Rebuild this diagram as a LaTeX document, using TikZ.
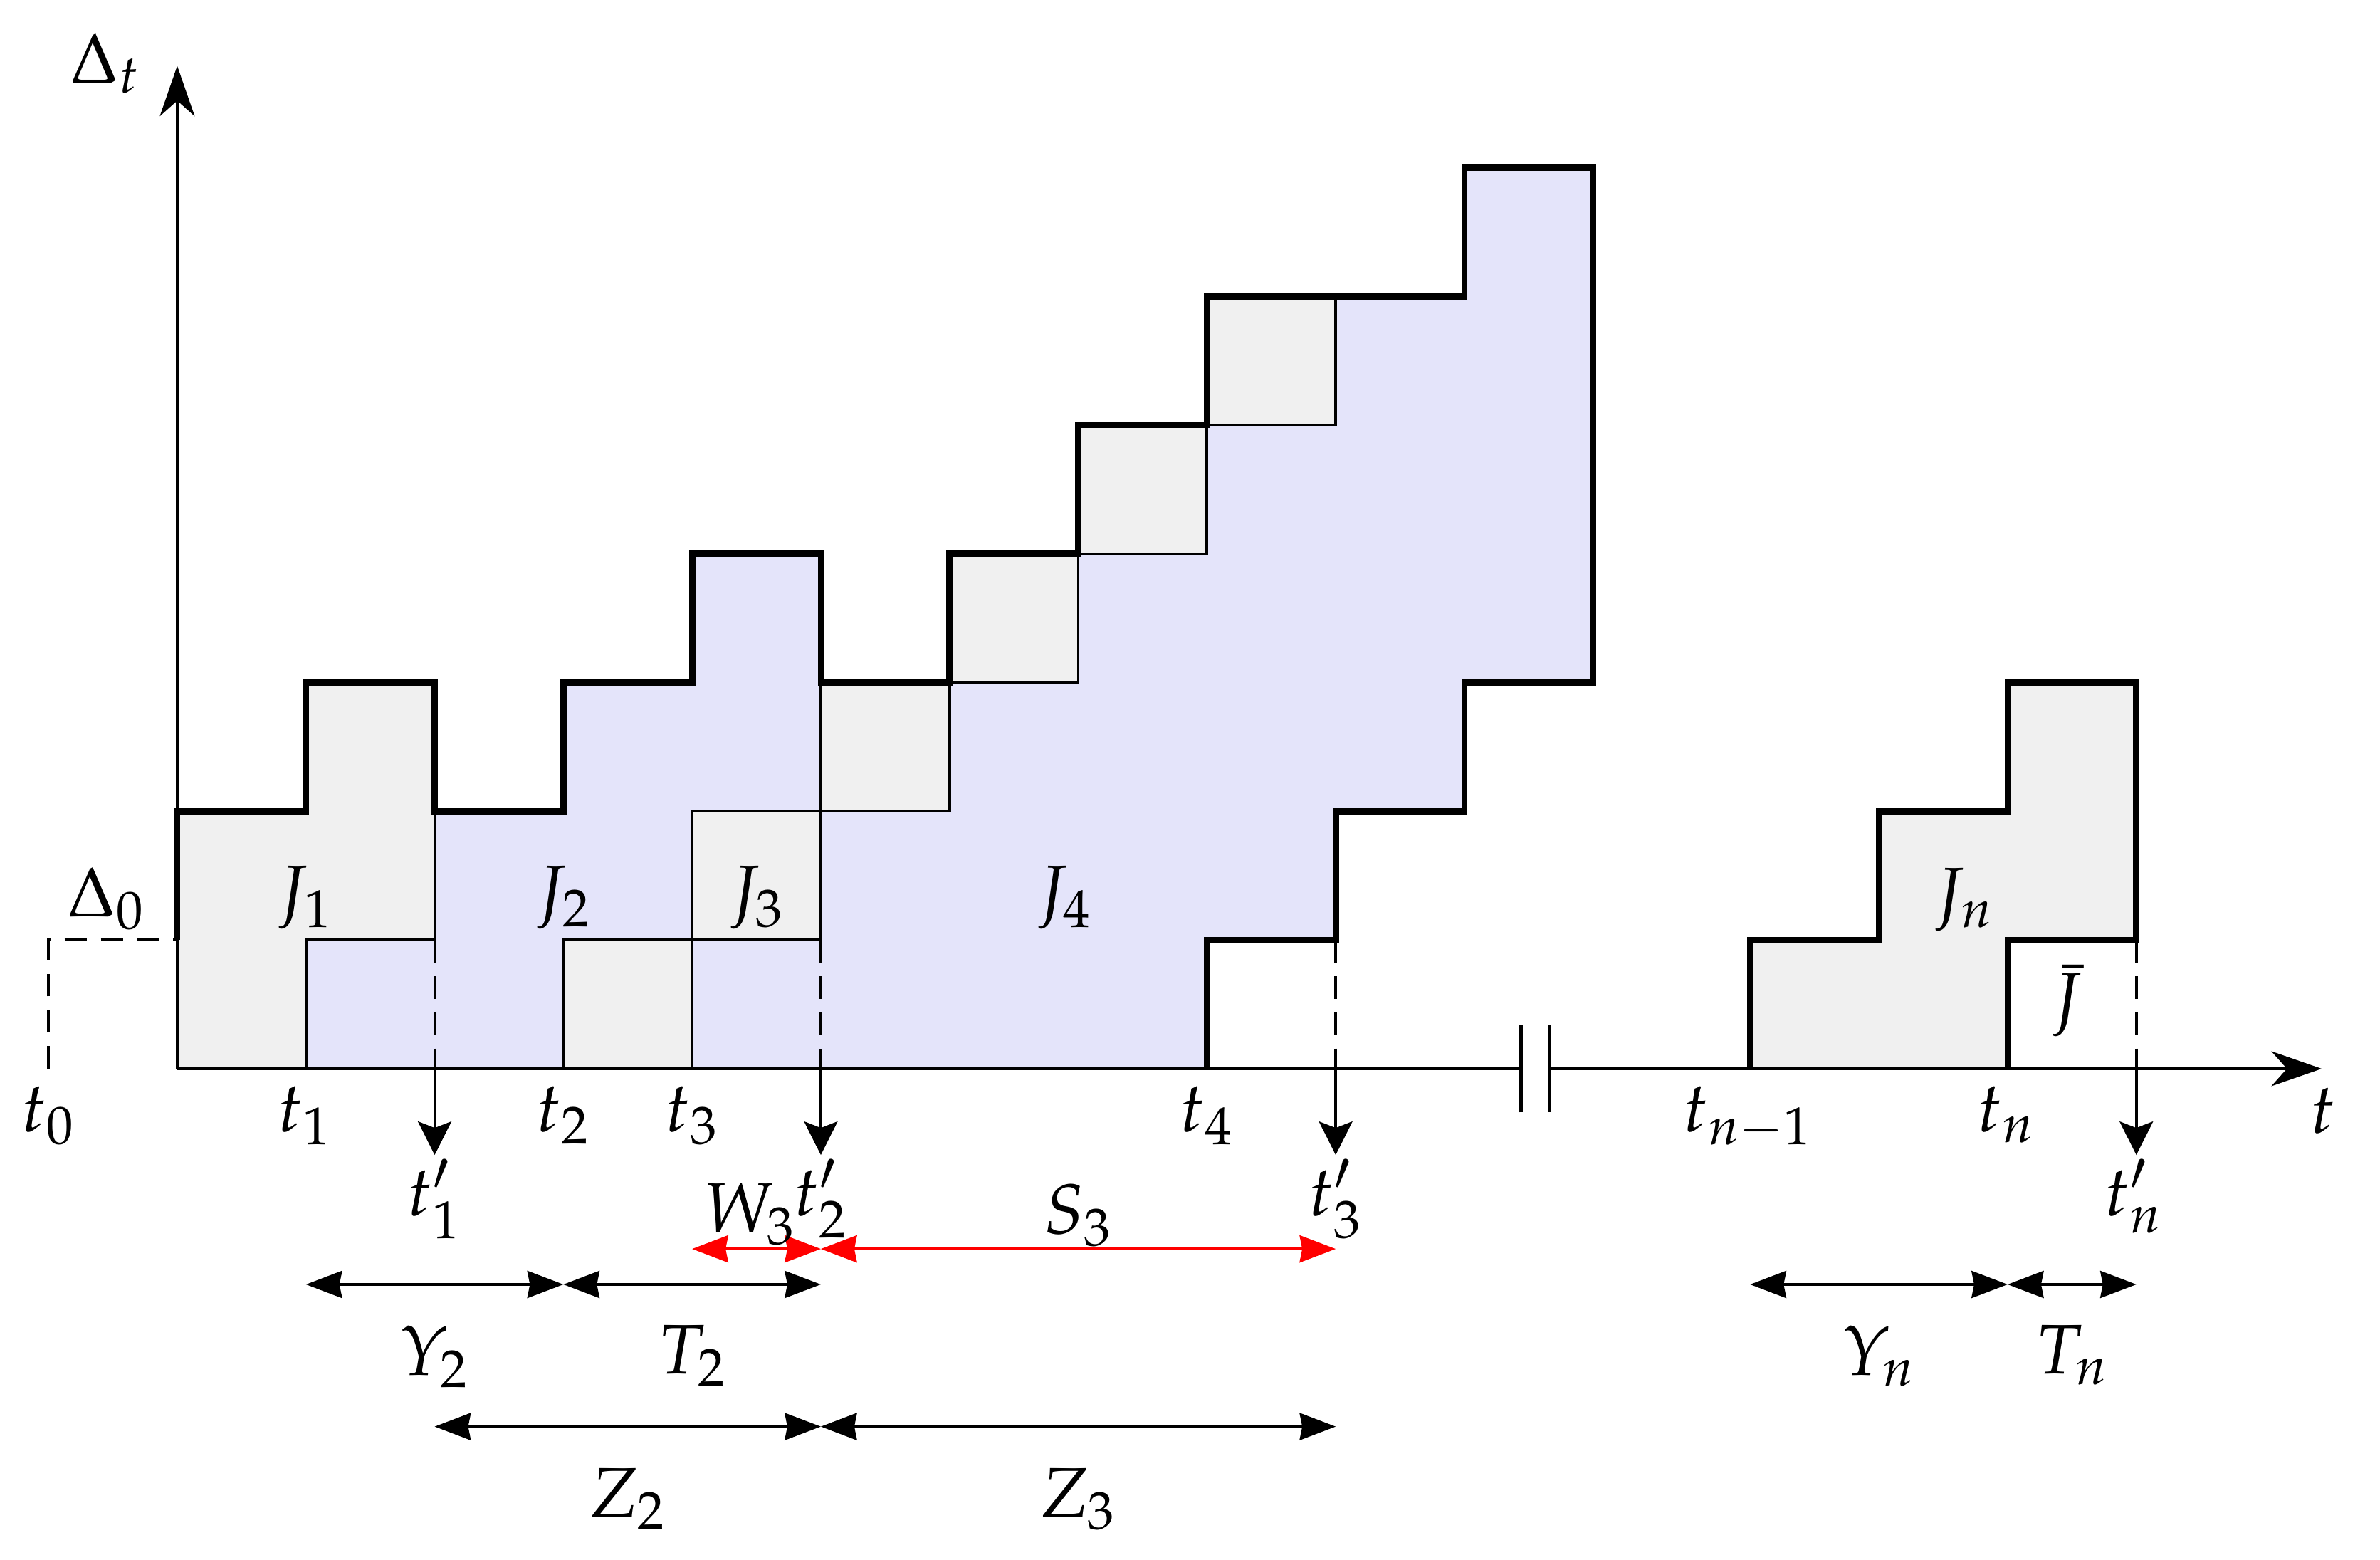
\documentclass[tikz,border=0pt]{standalone}
\usepackage{mathpazo}
\usetikzlibrary{arrows.meta}
\definecolor{boxgrey}{RGB}{240,240,240}
\definecolor{lav}{RGB}{228,228,250}
\begin{document}
\begin{tikzpicture}[x=1cm,y=1cm,
  thinln/.style={line width=0.6pt},
  envelope/.style={line width=1.4pt, line join=miter},
  gbox/.style={fill=boxgrey, draw=black, line width=0.6pt},
  dashln/.style={line width=0.6pt, dash pattern=on 5pt off 3pt},
  axtip/.style={-{Stealth[length=0.39cm,width=0.27cm,inset=0.12cm]}},
  droptip/.style={-{Stealth[length=0.26cm,width=0.26cm,inset=0.05cm]}, line width=0.55pt},
  dimarrow/.style={{Stealth[length=0.28cm,width=0.21cm,inset=0.02cm]}-{Stealth[length=0.28cm,width=0.21cm,inset=0.02cm]}, line width=0.6pt},
  lbl/.style={anchor=base, inner sep=0pt, font=\fontsize{15.5}{18}\selectfont},
]
\useasboundingbox (-1.377,-3.811) rectangle (17.113,8.302);

% ---------- fills ----------
\fill[lav] (1,0) -- (1,1) -- (2,1) -- (2,2) -- (3,2) -- (3,3) -- (4,3) -- (4,4) -- (5,4) -- (5,3) -- (6,3) -- (6,4) -- (7,4) -- (7,5) -- (8,5) -- (8,6) -- (10,6) -- (10,7) -- (11,7) -- (11,3) -- (10,3) -- (10,2) -- (9,2) -- (9,1) -- (8,1) -- (8,0) -- cycle;
\fill[boxgrey] (0,0) -- (0,2) -- (1,2) -- (1,3) -- (2,3) -- (2,1) -- (1,1) -- (1,0) -- cycle;
\draw[thinln] (1,0) -- (1,1) -- (2,1) -- (2,2);
\draw[gbox] (3,0) rectangle (4,1);
\draw[gbox] (4,1) rectangle (5,2);
\draw[gbox] (5,2) rectangle (6,3);
\draw[gbox] (6,3) rectangle (7,4);
\draw[gbox] (7,4) rectangle (8,5);
\draw[gbox] (8,5) rectangle (9,6);
\draw[thinln] (5,2) -- (5,3);

\fill[boxgrey] (12.22,0) -- (12.22,1) -- (13.22,1) -- (13.22,2) -- (14.22,2) -- (14.22,3) -- (15.22,3) -- (15.22,1) -- (14.22,1) -- (14.22,0) -- cycle;

% ---------- envelopes ----------
\draw[envelope] (0,1) -- (0,2) -- (1,2) -- (1,3) -- (2,3) -- (2,2) -- (3,2) -- (3,3) -- (4,3) -- (4,4) -- (5,4) -- (5,3) -- (6,3) -- (6,4) -- (7,4) -- (7,5) -- (8,5) -- (8,6) -- (10,6) -- (10,7) -- (11,7) -- (11,3) -- (10,3) -- (10,2) -- (9,2) -- (9,1) -- (8,1) -- (8,0);
\draw[envelope] (12.22,0) -- (12.22,1) -- (13.22,1) -- (13.22,2) -- (14.22,2) -- (14.22,3) -- (15.22,3) -- (15.22,1) -- (14.22,1) -- (14.22,0);

% ---------- axes ----------
\coordinate (O) at (0,0);
\coordinate (yend) at (0,7.79);
\coordinate (brkL) at (10.44,0);
\coordinate (brkR) at (10.66,0);
\coordinate (xend) at (16.66,0);
\draw[line width=0.7pt] (O) -- (brkL);
\draw[line width=0.7pt, axtip] (brkR) -- (xend);
\draw[thinln, axtip] (O) -- (yend);
\draw[line width=0.75pt] (10.44,-0.34) -- (10.44,0.34);
\draw[line width=0.75pt] (10.66,-0.34) -- (10.66,0.34);

% ---------- dashed guides ----------
\coordinate (t0b) at (-1,0);
\coordinate (t0t) at (-1,1);
\coordinate (d0) at (0,1);
\draw[dashln] (t0b) -- (t0t) -- (d0);

\coordinate (p1t) at (2,1);     \coordinate (p1) at (2,0);     \coordinate (p1d) at (2,-0.67);
\coordinate (p2t) at (5,1);     \coordinate (p2) at (5,0);     \coordinate (p2d) at (5,-0.67);
\coordinate (p3t) at (9,1);     \coordinate (p3) at (9,0);     \coordinate (p3d) at (9,-0.67);
\coordinate (pnt) at (15.22,1); \coordinate (pn) at (15.22,0); \coordinate (pnd) at (15.22,-0.67);
\draw[dashln] (p1t) -- (p1);
\draw[dashln] (p2t) -- (p2);
\draw[dashln] (p3t) -- (p3);
\draw[dashln] (pnt) -- (pn);
\draw[droptip] (p1) -- (p1d);
\draw[droptip] (p2) -- (p2d);
\draw[droptip] (p3) -- (p3d);
\draw[droptip] (pn) -- (pnd);

% ---------- dimension arrows ----------
\coordinate (rW) at (4,-1.40);  \coordinate (rM) at (5,-1.40);  \coordinate (rS) at (9,-1.40);
\coordinate (bY) at (1,-1.676); \coordinate (bM) at (3,-1.676); \coordinate (bT) at (5,-1.676);
\coordinate (zA) at (2,-2.78);  \coordinate (zM) at (5,-2.78);  \coordinate (zB) at (9,-2.78);
\coordinate (nY) at (12.22,-1.676); \coordinate (nM) at (14.22,-1.676); \coordinate (nT) at (15.22,-1.676);
\draw[dimarrow, red] (rW) -- (rM);
\draw[dimarrow, red] (rM) -- (rS);
\draw[dimarrow] (bY) -- (bM);
\draw[dimarrow] (bM) -- (bT);
\draw[dimarrow] (zA) -- (zM);
\draw[dimarrow] (zM) -- (zB);
\draw[dimarrow] (nY) -- (nM);
\draw[dimarrow] (nM) -- (nT);

% ---------- labels ----------
\node[lbl] (Dt) at (-0.56,7.66) {$\Delta_t$};
\node[lbl] (D0) at (-0.55,1.18) {$\Delta_0$};
\node[lbl] (J1) at (0.99,1.20) {$J_1$};
\node[lbl] (J2) at (3.0,1.20) {$J_2$};
\node[lbl] (J3) at (4.5,1.20) {$J_3$};
\node[lbl] (J4) at (6.89,1.20) {$J_4$};
\node[lbl] (Jn) at (13.88,1.18) {$J_n$};
\node[lbl] (Jb) at (14.68,0.36) {$\bar{J}$};

\node[lbl] (lt0) at (-1,-0.49) {$t_0$};
\node[lbl] (lt1) at (0.99,-0.49) {$t_1$};
\node[lbl] (lt2) at (3.0,-0.49) {$t_2$};
\node[lbl] (lt3) at (4.0,-0.49) {$t_3$};
\node[lbl] (lt4) at (8.0,-0.49) {$t_4$};
\node[lbl] (ltn1) at (12.2,-0.49) {$t_{n-1}$};
\node[lbl] (ltn) at (14.21,-0.49) {$t_n$};
\node[lbl] (lt) at (16.67,-0.50) {$t$};

\node[lbl] (lp1) at (2.0,-1.14) {$t'_1$};
\node[lbl] (lp2) at (5.0,-1.14) {$t'_2$};
\node[lbl] (lp3) at (9.0,-1.14) {$t'_3$};
\node[lbl] (lpn) at (15.2,-1.14) {$t'_n$};
\node[lbl] (lW3) at (4.45,-1.27) {$W_3$};
\node[lbl] (lS3) at (7.0,-1.28) {$S_3$};

\node[lbl] (lY2) at (2.0,-2.38) {$Y_2$};
\node[lbl] (lT2) at (4.0,-2.37) {$T_2$};
\node[lbl] (lYn) at (13.22,-2.38) {$Y_n$};
\node[lbl] (lTn) at (14.72,-2.37) {$T_n$};
\node[lbl] (lZ2) at (3.5,-3.48) {$Z_2$};
\node[lbl] (lZ3) at (7.0,-3.48) {$Z_3$};
\end{tikzpicture}
\end{document}
